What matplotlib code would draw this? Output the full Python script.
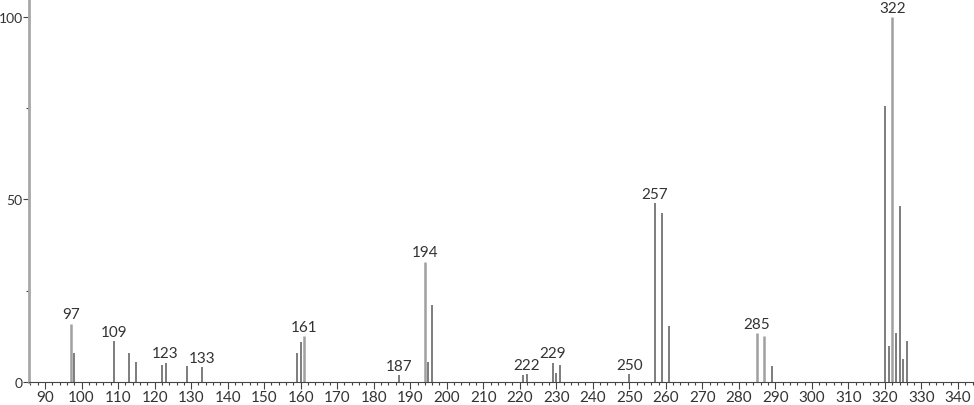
import numpy as np
import matplotlib.pyplot as plt
from matplotlib.ticker import MultipleLocator

# m/z и относительная интенсивность пиков
mz = [97, 98, 109, 113, 115, 122, 123, 129, 133, 159, 160, 161,
      187, 194, 195, 196, 221, 222, 229, 230, 231, 250,
      257, 259, 261, 285, 287, 289,
      320, 321, 322, 323, 324, 325, 326]
intensity = [16, 8, 11.1, 8, 5.4, 4.7, 5.3, 4.4, 4.1, 8, 11, 12.6,
             2.0, 33, 5.4, 21.1, 2.0, 2.2, 5.3, 2.6, 4.7, 2.2,
             49, 46.3, 15.3, 13.3, 12.7, 4.4,
             75.5, 9.9, 100, 13.3, 48.3, 6.3, 11.1]
labeled = [97, 109, 123, 133, 161, 187, 194, 222, 229, 250, 257, 285, 322]
light = [97, 161, 194, 285, 287, 322]

plt.rcParams['font.family'] = ['Lato', 'DejaVu Sans']
fig = plt.figure(figsize=(9.74, 4.06), dpi=100)
ax = fig.add_axes([29 / 974, 23 / 406, 945 / 974, 383 / 406])

for m, v in zip(mz, intensity):
    if m in light:
        ax.vlines(m, 0, v, color='#a0a0a0', lw=1.8)
    else:
        ax.vlines(m, 0, v, color='#5a5a5a', lw=1.1)
    if m in labeled:
        ax.text(m, v + 0.6, str(m), ha='center', va='bottom', fontsize=11, color='#333333')

ax.set_xlim(85.6, 344.4)
ax.set_ylim(0, 104.9)
ax.xaxis.set_minor_locator(MultipleLocator(2))
ax.set_xticks(np.arange(90, 341, 10))
ax.set_yticks([0, 50, 100])
ax.yaxis.set_minor_locator(MultipleLocator(25))
ax.tick_params(axis='x', which='major', length=5, width=0.8, color='#444444',
               labelsize=11, labelcolor='#333333', pad=1)
ax.tick_params(axis='x', which='minor', length=2.5, width=0.8, color='#444444')
ax.tick_params(axis='y', which='major', length=4, width=0.8, color='#444444',
               labelsize=10, labelcolor='#333333', pad=0.5)
ax.tick_params(axis='y', which='minor', length=2, width=0.8, color='#444444')

for s in ['top', 'right']:
    ax.spines[s].set_visible(False)
ax.spines['left'].set_color('#a8a8a8')
ax.spines['left'].set_linewidth(2)
ax.spines['bottom'].set_color('#444444')
ax.spines['bottom'].set_linewidth(0.8)

fig.savefig('out.png', dpi=100)
